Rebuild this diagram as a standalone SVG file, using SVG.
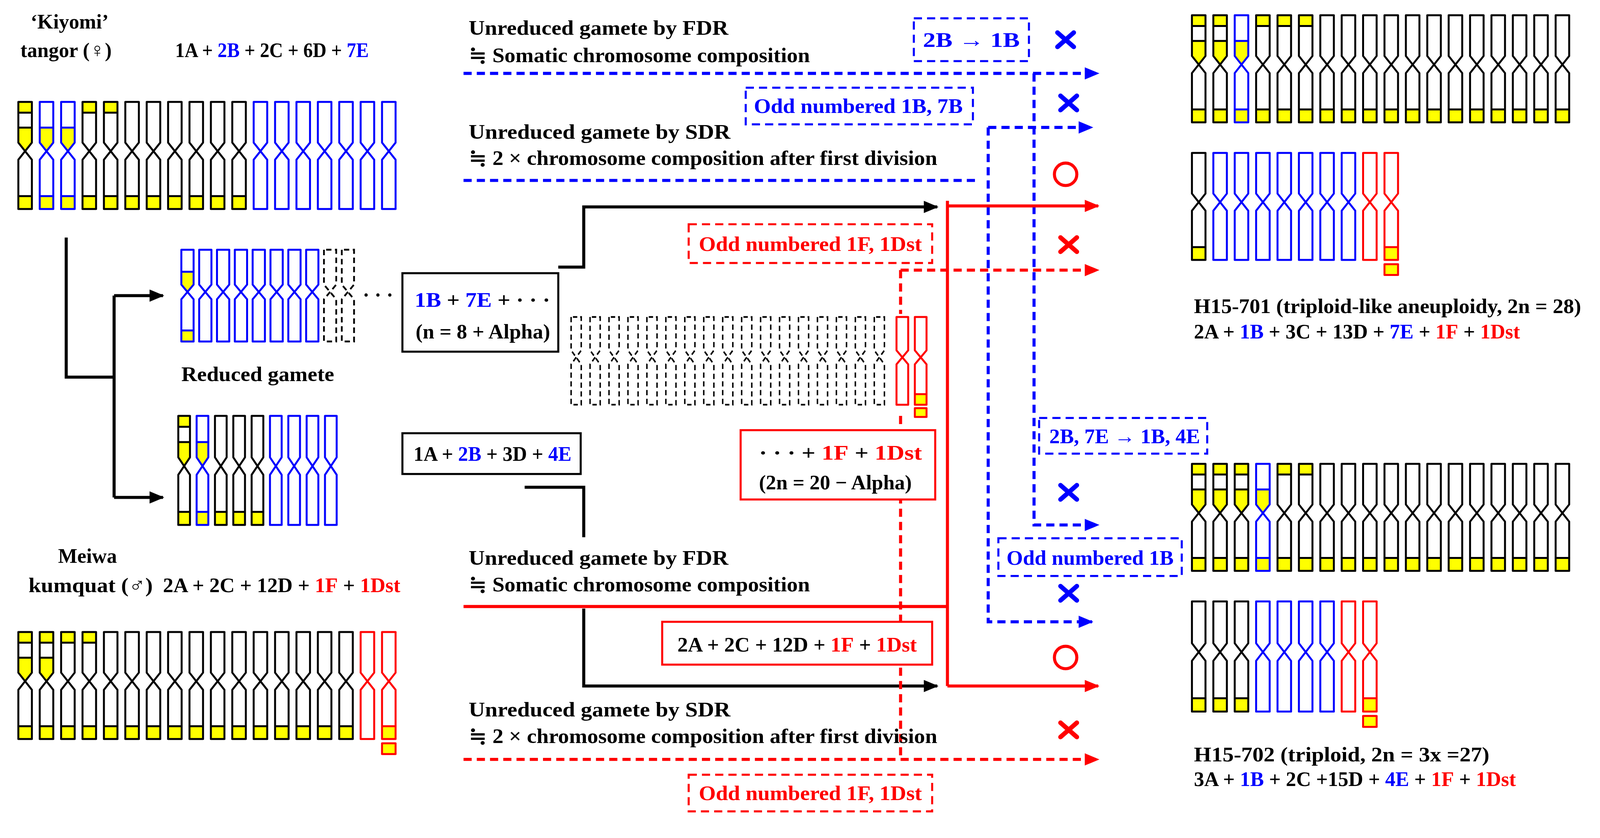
<svg xmlns="http://www.w3.org/2000/svg" xmlns:xlink="http://www.w3.org/1999/xlink" width="4172" height="2144" viewBox="0 0 4172 2144">
<style>
text{font-family:"Liberation Serif","DejaVu Serif",serif;font-weight:bold;font-size:20px;fill:#000}
.bl{fill:#0000ff}.rd{fill:#ff0000}
.s{stroke-width:5;vector-effect:non-scaling-stroke;stroke-linejoin:round}
.k{color:#000}.u{color:#0000ff}.r{color:#ff0000}
.ln{fill:none;stroke-width:3}
.bx{fill:#fff;stroke-width:2}
.dsh{stroke-dasharray:8 5}
.xm{fill:none;stroke-width:4.5;stroke-linecap:round}
</style>
<defs>
<g id="o"><path class="s" d="M0,0V38L14,54V100H0V54L14,38V0Z" fill="none" stroke="currentColor"/></g>
<g id="od"><path d="M0,0V38L14,54V100H0V54L14,38V0Z" fill="none" stroke="#000" stroke-width="2" stroke-dasharray="6 4"/></g>
<g id="t"><rect x="0" y="0" width="14" height="10" fill="#ff0"/><line class="s" x1="0" y1="10" x2="14" y2="10" stroke="currentColor"/></g>
<g id="c"><path d="M0,24H14V38L7,46L0,38Z" fill="#ff0"/><line class="s" x1="0" y1="24" x2="14" y2="24" stroke="currentColor"/></g>
<g id="b"><rect x="0" y="88" width="14" height="12" fill="#ff0"/><line class="s" x1="0" y1="88" x2="14" y2="88" stroke="currentColor"/></g>
<g id="A"><use href="#t"/><use href="#c"/><use href="#b"/><use href="#o"/></g>
<g id="B"><use href="#c"/><use href="#b"/><use href="#o"/></g>
<g id="C"><use href="#t"/><use href="#b"/><use href="#o"/></g>
<g id="D"><use href="#b"/><use href="#o"/></g>
<g id="S"><use href="#b"/><use href="#o"/><rect class="s" x="0" y="104" width="14" height="10" fill="#ff0" stroke="currentColor"/></g>
<path id="xx" d="M-8,-7L8,7M8,-7L-8,7"/>
<marker id="mk" viewBox="0 0 12 10" refX="11" refY="5" markerWidth="5" markerHeight="4" orient="auto"><path d="M0,0L12,5L0,10Z" fill="#000"/></marker>
<marker id="mr" viewBox="0 0 12 10" refX="11" refY="5" markerWidth="5" markerHeight="4" orient="auto"><path d="M0,0L12,5L0,10Z" fill="#f00"/></marker>
<marker id="mb" viewBox="0 0 12 10" refX="11" refY="5" markerWidth="5" markerHeight="4" orient="auto"><path d="M0,0L12,5L0,10Z" fill="#00f"/></marker>
</defs>
<rect width="4172" height="2144" fill="#fff"/>
<g transform="scale(2.608)">

<g id="connectors">
<path class="ln" stroke="#000" d="M65,233V370H112M112,290V488"/>
<path class="ln" stroke="#000" d="M112,290H160" marker-end="url(#mk)"/>
<path class="ln" stroke="#000" d="M112,488H160" marker-end="url(#mk)"/>
<path class="ln" stroke="#000" d="M548,262H573V203H920" marker-end="url(#mk)"/>
<path class="ln" stroke="#000" d="M515,478H573V527"/>
<path class="ln" stroke="#000" d="M573,597V673H920" marker-end="url(#mk)"/>
<path class="ln dsh" stroke="#00f" d="M455,72H1078" marker-end="url(#mb)"/>
<path class="ln dsh" stroke="#00f" d="M1015,72V515H1078" marker-end="url(#mb)"/>
<path class="ln dsh" stroke="#00f" d="M455,177H960"/>
<path class="ln dsh" stroke="#00f" d="M970,125H1072" marker-end="url(#mb)"/>
<path class="ln dsh" stroke="#00f" d="M970,125V610H1072" marker-end="url(#mb)"/>
<path class="ln" stroke="#f00" d="M930,197V673"/>
<path class="ln" stroke="#f00" d="M930,202H1078" marker-end="url(#mr)"/>
<path class="ln" stroke="#f00" d="M930,673H1078" marker-end="url(#mr)"/>
<path class="ln" stroke="#f00" d="M455,595H930"/>
<path class="ln dsh" stroke="#f00" d="M884,265H1078" marker-end="url(#mr)"/>
<path class="ln dsh" stroke="#f00" d="M884,265V745"/>
<path class="ln dsh" stroke="#f00" d="M455,745H1078" marker-end="url(#mr)"/>
</g>

<g id="kiyomi">
<text x="30" y="28">‘Kiyomi’</text>
<text x="20" y="56">tangor (♀)</text>
<text x="172" y="56" textLength="190" lengthAdjust="spacingAndGlyphs">1A + <tspan class="bl">2B</tspan> + 2C + 6D + <tspan class="bl">7E</tspan></text>
<g transform="translate(0,100)">
<use href="#A" class="k" transform="translate(18,0) scale(0.95,1.05)"/>
<use href="#B" class="u" transform="translate(39,0) scale(0.95,1.05)"/>
<use href="#B" class="u" transform="translate(60,0) scale(0.95,1.05)"/>
<use href="#C" class="k" transform="translate(81,0) scale(0.95,1.05)"/>
<use href="#C" class="k" transform="translate(102,0) scale(0.95,1.05)"/>
<use href="#D" class="k" transform="translate(123,0) scale(0.95,1.05)"/>
<use href="#D" class="k" transform="translate(144,0) scale(0.95,1.05)"/>
<use href="#D" class="k" transform="translate(165,0) scale(0.95,1.05)"/>
<use href="#D" class="k" transform="translate(186,0) scale(0.95,1.05)"/>
<use href="#D" class="k" transform="translate(207,0) scale(0.95,1.05)"/>
<use href="#D" class="k" transform="translate(228,0) scale(0.95,1.05)"/>
<use href="#o" class="u" transform="translate(249,0) scale(0.95,1.05)"/>
<use href="#o" class="u" transform="translate(270,0) scale(0.95,1.05)"/>
<use href="#o" class="u" transform="translate(291,0) scale(0.95,1.05)"/>
<use href="#o" class="u" transform="translate(312,0) scale(0.95,1.05)"/>
<use href="#o" class="u" transform="translate(333,0) scale(0.95,1.05)"/>
<use href="#o" class="u" transform="translate(354,0) scale(0.95,1.05)"/>
<use href="#o" class="u" transform="translate(375,0) scale(0.95,1.05)"/>
</g>
</g>

<g id="gamete1">
<g transform="translate(0,245)">
<use href="#B" class="u" transform="translate(178,0) scale(0.86,0.9)"/>
<use href="#o" class="u" transform="translate(195.5,0) scale(0.86,0.9)"/>
<use href="#o" class="u" transform="translate(213,0) scale(0.86,0.9)"/>
<use href="#o" class="u" transform="translate(230.5,0) scale(0.86,0.9)"/>
<use href="#o" class="u" transform="translate(248,0) scale(0.86,0.9)"/>
<use href="#o" class="u" transform="translate(265.5,0) scale(0.86,0.9)"/>
<use href="#o" class="u" transform="translate(283,0) scale(0.86,0.9)"/>
<use href="#o" class="u" transform="translate(300.5,0) scale(0.86,0.9)"/>
<use href="#od" transform="translate(318,0) scale(0.86,0.9)"/>
<use href="#od" transform="translate(335.5,0) scale(0.86,0.9)"/>
</g>
<text x="356" y="296">· · ·</text>
<text x="178" y="374" textLength="150" lengthAdjust="spacingAndGlyphs">Reduced gamete</text>
</g>

<g id="box1">
<rect class="bx" stroke="#000" x="395" y="268" width="153" height="77"/>
<text x="407" y="301" textLength="133" lengthAdjust="spacingAndGlyphs"><tspan class="bl">1B</tspan> + <tspan class="bl">7E</tspan> + · · ·</text>
<text x="408" y="332" textLength="132" lengthAdjust="spacingAndGlyphs">(n = 8 + Alpha)</text>
</g>

<g id="gamete2">
<g transform="translate(0,408)">
<use href="#A" class="k" transform="translate(175,0) scale(0.82,1.07)"/>
<use href="#B" class="u" transform="translate(193,0) scale(0.82,1.07)"/>
<use href="#D" class="k" transform="translate(211,0) scale(0.82,1.07)"/>
<use href="#D" class="k" transform="translate(229,0) scale(0.82,1.07)"/>
<use href="#D" class="k" transform="translate(247,0) scale(0.82,1.07)"/>
<use href="#o" class="u" transform="translate(265,0) scale(0.82,1.07)"/>
<use href="#o" class="u" transform="translate(283,0) scale(0.82,1.07)"/>
<use href="#o" class="u" transform="translate(301,0) scale(0.82,1.07)"/>
<use href="#o" class="u" transform="translate(319,0) scale(0.82,1.07)"/>
</g>
</g>

<g id="box2">
<rect class="bx" stroke="#000" x="395" y="425" width="175" height="40"/>
<text x="406" y="452" textLength="155" lengthAdjust="spacingAndGlyphs">1A + <tspan class="bl">2B</tspan> + 3D + <tspan class="bl">4E</tspan></text>
</g>

<g id="meiwa">
<text x="57" y="552">Meiwa</text>
<text x="28" y="581" textLength="122" lengthAdjust="spacingAndGlyphs">kumquat (♂)</text>
<text x="160" y="581" textLength="233" lengthAdjust="spacingAndGlyphs">2A + 2C + 12D + <tspan class="rd">1F</tspan> + <tspan class="rd">1Dst</tspan></text>
<g transform="translate(0,620)">
<use href="#A" class="k" transform="translate(18,0) scale(0.95,1.05)"/>
<use href="#A" class="k" transform="translate(39,0) scale(0.95,1.05)"/>
<use href="#C" class="k" transform="translate(60,0) scale(0.95,1.05)"/>
<use href="#C" class="k" transform="translate(81,0) scale(0.95,1.05)"/>
<use href="#D" class="k" transform="translate(102,0) scale(0.95,1.05)"/>
<use href="#D" class="k" transform="translate(123,0) scale(0.95,1.05)"/>
<use href="#D" class="k" transform="translate(144,0) scale(0.95,1.05)"/>
<use href="#D" class="k" transform="translate(165,0) scale(0.95,1.05)"/>
<use href="#D" class="k" transform="translate(186,0) scale(0.95,1.05)"/>
<use href="#D" class="k" transform="translate(207,0) scale(0.95,1.05)"/>
<use href="#D" class="k" transform="translate(228,0) scale(0.95,1.05)"/>
<use href="#D" class="k" transform="translate(249,0) scale(0.95,1.05)"/>
<use href="#D" class="k" transform="translate(270,0) scale(0.95,1.05)"/>
<use href="#D" class="k" transform="translate(291,0) scale(0.95,1.05)"/>
<use href="#D" class="k" transform="translate(312,0) scale(0.95,1.05)"/>
<use href="#D" class="k" transform="translate(333,0) scale(0.95,1.05)"/>
<use href="#o" class="r" transform="translate(354,0) scale(0.95,1.05)"/>
<use href="#S" class="r" transform="translate(375,0) scale(0.95,1.05)"/>
</g>
</g>

<g id="middle-block">
<g transform="translate(0,311)">
<use href="#od" transform="translate(560.6,0) scale(0.71,0.86)"/>
<use href="#od" transform="translate(579.2,0) scale(0.71,0.86)"/>
<use href="#od" transform="translate(597.8,0) scale(0.71,0.86)"/>
<use href="#od" transform="translate(616.4,0) scale(0.71,0.86)"/>
<use href="#od" transform="translate(635,0) scale(0.71,0.86)"/>
<use href="#od" transform="translate(653.6,0) scale(0.71,0.86)"/>
<use href="#od" transform="translate(672.2,0) scale(0.71,0.86)"/>
<use href="#od" transform="translate(690.8,0) scale(0.71,0.86)"/>
<use href="#od" transform="translate(709.4,0) scale(0.71,0.86)"/>
<use href="#od" transform="translate(728,0) scale(0.71,0.86)"/>
<use href="#od" transform="translate(746.6,0) scale(0.71,0.86)"/>
<use href="#od" transform="translate(765.2,0) scale(0.71,0.86)"/>
<use href="#od" transform="translate(783.8,0) scale(0.71,0.86)"/>
<use href="#od" transform="translate(802.4,0) scale(0.71,0.86)"/>
<use href="#od" transform="translate(821,0) scale(0.71,0.86)"/>
<use href="#od" transform="translate(839.6,0) scale(0.71,0.86)"/>
<use href="#od" transform="translate(858.2,0) scale(0.71,0.86)"/>
<rect x="878" y="-3" width="14" height="96" fill="#fff"/>
<use href="#o" class="r" transform="translate(880,0) scale(0.82,0.86)"/>
<use href="#S" class="r" transform="translate(898,0) scale(0.82,0.86)"/>
</g>
</g>

<g id="labels-mid">
<text x="460" y="34" textLength="255" lengthAdjust="spacingAndGlyphs">Unreduced gamete by FDR</text>
<text x="460" y="61" textLength="335" lengthAdjust="spacingAndGlyphs">≒ Somatic chromosome composition</text>
<text x="460" y="136" textLength="257" lengthAdjust="spacingAndGlyphs">Unreduced gamete by SDR</text>
<text x="460" y="162" textLength="460" lengthAdjust="spacingAndGlyphs">≒ 2 × chromosome composition after first division</text>
<text x="460" y="554" textLength="255" lengthAdjust="spacingAndGlyphs">Unreduced gamete by FDR</text>
<text x="460" y="580" textLength="335" lengthAdjust="spacingAndGlyphs">≒ Somatic chromosome composition</text>
<text x="460" y="703" textLength="257" lengthAdjust="spacingAndGlyphs">Unreduced gamete by SDR</text>
<text x="460" y="729" textLength="460" lengthAdjust="spacingAndGlyphs">≒ 2 × chromosome composition after first division</text>
</g>

<g id="box-2b">
<rect class="bx dsh" stroke="#00f" x="897" y="18" width="113" height="42"/>
<text class="bl" x="906" y="46" textLength="95" lengthAdjust="spacingAndGlyphs">2B → 1B</text>
</g>
<g id="box-odd1b7b">
<rect class="bx dsh" stroke="#00f" x="732" y="86" width="223" height="36"/>
<text class="bl" x="740" y="111" textLength="205" lengthAdjust="spacingAndGlyphs">Odd numbered 1B, 7B</text>
</g>
<g id="box-odd1f-top">
<rect class="bx dsh" stroke="#f00" x="676" y="220" width="239" height="38"/>
<text class="rd" x="686" y="246" textLength="219" lengthAdjust="spacingAndGlyphs">Odd numbered 1F, 1Dst</text>
</g>
<g id="box-red3">
<rect class="bx" stroke="#f00" x="727" y="422" width="191" height="68"/>
<text x="745" y="451" textLength="160" lengthAdjust="spacingAndGlyphs">· · · + <tspan class="rd">1F</tspan> + <tspan class="rd">1Dst</tspan></text>
<text x="745" y="480" textLength="150" lengthAdjust="spacingAndGlyphs">(2n = 20 − Alpha)</text>
</g>
<g id="box-red4">
<rect class="bx" stroke="#f00" x="650" y="610" width="265" height="42"/>
<text x="665" y="639" textLength="235" lengthAdjust="spacingAndGlyphs">2A + 2C + 12D + <tspan class="rd">1F</tspan> + <tspan class="rd">1Dst</tspan></text>
</g>
<g id="box-odd1f-bot">
<rect class="bx dsh" stroke="#f00" x="676" y="760" width="239" height="36"/>
<text class="rd" x="686" y="785" textLength="219" lengthAdjust="spacingAndGlyphs">Odd numbered 1F, 1Dst</text>
</g>
<g id="box-2b7e">
<rect class="bx dsh" stroke="#00f" x="1020" y="410" width="165" height="35"/>
<text class="bl" x="1030" y="435" textLength="148" lengthAdjust="spacingAndGlyphs">2B, 7E → 1B, 4E</text>
</g>
<g id="box-odd1b">
<rect class="bx dsh" stroke="#00f" x="980" y="528" width="180" height="37"/>
<text class="bl" x="988" y="554" textLength="164" lengthAdjust="spacingAndGlyphs">Odd numbered 1B</text>
</g>

<g id="marks">
<use href="#xx" class="xm" stroke="#00f" transform="translate(1046,39)"/>
<use href="#xx" class="xm" stroke="#00f" transform="translate(1049,101)"/>
<circle cx="1046" cy="171" r="11" fill="none" stroke="#f00" stroke-width="3"/>
<use href="#xx" class="xm" stroke="#f00" transform="translate(1049,240)"/>
<use href="#xx" class="xm" stroke="#00f" transform="translate(1049,483)"/>
<use href="#xx" class="xm" stroke="#00f" transform="translate(1049,582)"/>
<circle cx="1046" cy="645" r="11" fill="none" stroke="#f00" stroke-width="3"/>
<use href="#xx" class="xm" stroke="#f00" transform="translate(1049,716)"/>
</g>

<g id="h15-701">
<g transform="translate(0,15)">
<use href="#A" class="k" transform="translate(1170,0) scale(0.95,1.05)"/>
<use href="#A" class="k" transform="translate(1191,0) scale(0.95,1.05)"/>
<use href="#B" class="u" transform="translate(1212,0) scale(0.95,1.05)"/>
<use href="#C" class="k" transform="translate(1233,0) scale(0.95,1.05)"/>
<use href="#C" class="k" transform="translate(1254,0) scale(0.95,1.05)"/>
<use href="#C" class="k" transform="translate(1275,0) scale(0.95,1.05)"/>
<use href="#D" class="k" transform="translate(1296,0) scale(0.95,1.05)"/>
<use href="#D" class="k" transform="translate(1317,0) scale(0.95,1.05)"/>
<use href="#D" class="k" transform="translate(1338,0) scale(0.95,1.05)"/>
<use href="#D" class="k" transform="translate(1359,0) scale(0.95,1.05)"/>
<use href="#D" class="k" transform="translate(1380,0) scale(0.95,1.05)"/>
<use href="#D" class="k" transform="translate(1401,0) scale(0.95,1.05)"/>
<use href="#D" class="k" transform="translate(1422,0) scale(0.95,1.05)"/>
<use href="#D" class="k" transform="translate(1443,0) scale(0.95,1.05)"/>
<use href="#D" class="k" transform="translate(1464,0) scale(0.95,1.05)"/>
<use href="#D" class="k" transform="translate(1485,0) scale(0.95,1.05)"/>
<use href="#D" class="k" transform="translate(1506,0) scale(0.95,1.05)"/>
<use href="#D" class="k" transform="translate(1527,0) scale(0.95,1.05)"/>
</g>
<g transform="translate(0,150)">
<use href="#D" class="k" transform="translate(1170,0) scale(0.95,1.05)"/>
<use href="#o" class="u" transform="translate(1191,0) scale(0.95,1.05)"/>
<use href="#o" class="u" transform="translate(1212,0) scale(0.95,1.05)"/>
<use href="#o" class="u" transform="translate(1233,0) scale(0.95,1.05)"/>
<use href="#o" class="u" transform="translate(1254,0) scale(0.95,1.05)"/>
<use href="#o" class="u" transform="translate(1275,0) scale(0.95,1.05)"/>
<use href="#o" class="u" transform="translate(1296,0) scale(0.95,1.05)"/>
<use href="#o" class="u" transform="translate(1317,0) scale(0.95,1.05)"/>
<use href="#o" class="r" transform="translate(1338,0) scale(0.95,1.05)"/>
<use href="#S" class="r" transform="translate(1359,0) scale(0.95,1.05)"/>
</g>
<text x="1172" y="307" textLength="380" lengthAdjust="spacingAndGlyphs">H15-701 (triploid-like aneuploidy, 2n = 28)</text>
<text x="1172" y="332" textLength="320" lengthAdjust="spacingAndGlyphs">2A + <tspan class="bl">1B</tspan> + 3C + 13D + <tspan class="bl">7E</tspan> + <tspan class="rd">1F</tspan> + <tspan class="rd">1Dst</tspan></text>
</g>

<g id="h15-702">
<g transform="translate(0,455)">
<use href="#A" class="k" transform="translate(1170,0) scale(0.95,1.05)"/>
<use href="#A" class="k" transform="translate(1191,0) scale(0.95,1.05)"/>
<use href="#A" class="k" transform="translate(1212,0) scale(0.95,1.05)"/>
<use href="#B" class="u" transform="translate(1233,0) scale(0.95,1.05)"/>
<use href="#C" class="k" transform="translate(1254,0) scale(0.95,1.05)"/>
<use href="#C" class="k" transform="translate(1275,0) scale(0.95,1.05)"/>
<use href="#D" class="k" transform="translate(1296,0) scale(0.95,1.05)"/>
<use href="#D" class="k" transform="translate(1317,0) scale(0.95,1.05)"/>
<use href="#D" class="k" transform="translate(1338,0) scale(0.95,1.05)"/>
<use href="#D" class="k" transform="translate(1359,0) scale(0.95,1.05)"/>
<use href="#D" class="k" transform="translate(1380,0) scale(0.95,1.05)"/>
<use href="#D" class="k" transform="translate(1401,0) scale(0.95,1.05)"/>
<use href="#D" class="k" transform="translate(1422,0) scale(0.95,1.05)"/>
<use href="#D" class="k" transform="translate(1443,0) scale(0.95,1.05)"/>
<use href="#D" class="k" transform="translate(1464,0) scale(0.95,1.05)"/>
<use href="#D" class="k" transform="translate(1485,0) scale(0.95,1.05)"/>
<use href="#D" class="k" transform="translate(1506,0) scale(0.95,1.05)"/>
<use href="#D" class="k" transform="translate(1527,0) scale(0.95,1.05)"/>
</g>
<g transform="translate(0,590)">
<use href="#D" class="k" transform="translate(1170,0) scale(0.95,1.08)"/>
<use href="#D" class="k" transform="translate(1191,0) scale(0.95,1.08)"/>
<use href="#D" class="k" transform="translate(1212,0) scale(0.95,1.08)"/>
<use href="#o" class="u" transform="translate(1233,0) scale(0.95,1.08)"/>
<use href="#o" class="u" transform="translate(1254,0) scale(0.95,1.08)"/>
<use href="#o" class="u" transform="translate(1275,0) scale(0.95,1.08)"/>
<use href="#o" class="u" transform="translate(1296,0) scale(0.95,1.08)"/>
<use href="#o" class="r" transform="translate(1317,0) scale(0.95,1.08)"/>
<use href="#S" class="r" transform="translate(1338,0) scale(0.95,1.08)"/>
</g>
<text x="1172" y="747" textLength="290" lengthAdjust="spacingAndGlyphs">H15-702 (triploid, 2n = 3x =27)</text>
<text x="1172" y="771" textLength="316" lengthAdjust="spacingAndGlyphs">3A + <tspan class="bl">1B</tspan> + 2C +15D + <tspan class="bl">4E</tspan> + <tspan class="rd">1F</tspan> + <tspan class="rd">1Dst</tspan></text>
</g>

</g>
</svg>
